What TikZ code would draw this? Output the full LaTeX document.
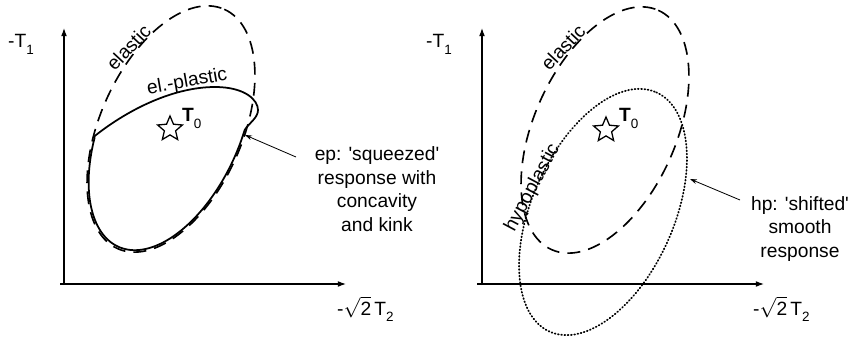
\documentclass[tikz,border=0pt]{standalone}
\usepackage{fontspec}
\setmainfont{Liberation Sans}
\usetikzlibrary{arrows.meta,shapes.geometric}
\newcommand{\lowsub}[1]{\raisebox{-0.33em}{\fontsize{11.5}{12}\selectfont #1}}
\begin{document}
\begin{tikzpicture}[x=0.03cm,y=-0.03cm,
  every node/.style={font=\fontsize{16.4}{20}\selectfont, inner sep=0pt},
  axisline/.style={line width=0.9pt,-{Latex[length=7pt,width=5pt]}},
  elasticline/.style={line width=1.4pt,dash pattern=on 11pt off 7pt},
  epline/.style={line width=1.5pt,line join=round},
  hpline/.style={line width=1.5pt,line cap=round,dash pattern=on 0.7pt off 2.1pt},
  pointer/.style={line width=0.7pt,-{Stealth[length=6pt,width=4pt]}},
  curvelabel/.style={anchor=base},
  startmark/.style={star,star points=5,star point ratio=2.2,draw,line width=1.1pt,minimum size=0.78cm},
  blocktext/.style={align=center}
]
\useasboundingbox (0,0) rectangle (854,338);

% ---------- left panel ----------
\coordinate (Lx0) at (60,284);
\coordinate (Lx1) at (346,284);
\coordinate (Ly0) at (64,285);
\coordinate (Ly1) at (64,28);
\draw[axisline] (Lx0) -- (Lx1);
\draw[axisline] (Ly0) -- (Ly1);
\node[anchor=base west] (LT1) at (8,48) {-T\lowsub{1}};
\node[anchor=base west] (LT2) at (337,315) {-$\sqrt{\mbox{2}}$\,T\lowsub{2}};

\draw[elasticline] (171,129) ellipse [x radius=131, y radius=71, rotate=66];
\draw[epline] plot[domain=108:283,samples=80,smooth,variable=\t]
   ({171+129*cos(\t)*0.4067-69.5*sin(\t)*0.9135},{129-129*cos(\t)*0.9135-69.5*sin(\t)*0.4067})
   .. controls (249,123) and (258,118) .. (258,110)
   .. controls (258,100) and (245,87) .. (215,87)
   .. controls (175,87) and (130,108) .. (94.6,136.1) -- cycle;

\node[curvelabel,rotate=47] (Lel) at (133.5,52) {elastic};
\node[curvelabel,rotate=10] (Lep) at (188,87) {el.-plastic};
\node[startmark] (Lstar) at (170,129) {};
\node[anchor=base west] (LT0) at (182,122) {\textbf{T}\lowsub{0}};

\node[blocktext] (eptext) at (377,189) {ep: \textquotesingle squeezed\textquotesingle\\response with\\concavity\\and kink};
\coordinate (epS) at (296,157);
\coordinate (epT) at (245,135);
\draw[pointer] (epS) -- (epT);

% ---------- right panel ----------
\coordinate (Rx0) at (477,284);
\coordinate (Rx1) at (764,284);
\coordinate (Ry0) at (482,285);
\coordinate (Ry1) at (482,28);
\draw[axisline] (Rx0) -- (Rx1);
\draw[axisline] (Ry0) -- (Ry1);
\node[anchor=base west] (RT1) at (426,48) {-T\lowsub{1}};
\node[anchor=base west] (RT2) at (753,315) {-$\sqrt{\mbox{2}}$\,T\lowsub{2}};

\draw[elasticline] (605,130) ellipse [x radius=131, y radius=71, rotate=66];
\draw[hpline] (603,212) ellipse [x radius=131, y radius=71, rotate=66];

\node[curvelabel,rotate=47] (Rel) at (568,52) {elastic};
\node[curvelabel,rotate=62] (Rhp) at (537,190) {hypoplastic};
\node[startmark] (Rstar) at (606,130) {};
\node[anchor=base west] (RT0) at (619,122) {\textbf{T}\lowsub{0}};

\node[blocktext] (hptext) at (800,229) {hp: \textquotesingle shifted\textquotesingle\\smooth\\response};
\coordinate (hpS) at (740,200);
\coordinate (hpT) at (690,179);
\draw[pointer] (hpS) -- (hpT);
\end{tikzpicture}
\end{document}
